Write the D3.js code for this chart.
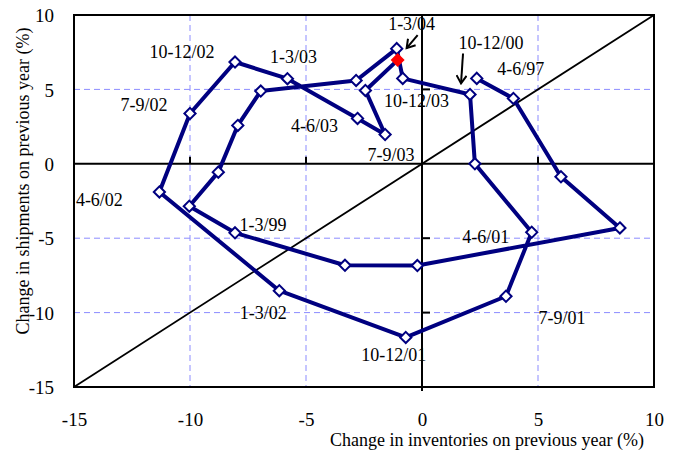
<!DOCTYPE html>
<html><head><meta charset="utf-8">
<script src="https://cdn.jsdelivr.net/npm/d3@7/dist/d3.min.js"></script>
<style>html,body{margin:0;padding:0;background:#fff}svg{display:block}</style>
</head><body>
<svg id="c" width="676" height="461"></svg>
<script>
// ---- data ----
const inventories = [2.36, 3.94, 5.99, 8.53, -0.2, -3.32, -8.06, -10.03, -8.78, -7.94, -6.95, -2.84, -1.09, -0.83,
  2.07, 2.28, 4.73, 3.62, -0.7, -6.15, -11.32, -10.0, -8.06, -5.8, -2.78, -1.59, -2.44, -1.05];
const shipments = [5.74, 4.39, -0.87, -4.31, -6.84, -6.82, -4.64, -2.85, -0.56, 2.58, 4.89, 5.6, 7.74, 5.74,
  4.66, 0.0, -4.6, -8.9, -11.67, -8.53, -1.89, 3.38, 6.84, 5.72, 3.05, 1.97, 4.93, 6.97];
const labelText = ["4-6/97", "1-3/99", "10-12/00", "4-6/01", "7-9/01", "10-12/01", "1-3/02", "4-6/02", "7-9/02",
  "10-12/02", "1-3/03", "4-6/03", "7-9/03", "10-12/03", "1-3/04"];
const labelPoint = [0, 6, 14, 16, 17, 18, 19, 20, 21, 22, 23, 24, 25, 26, 27];
const xTicks = [-15, -10, -5, 0, 5, 10];
const yTicks = [-15, -10, -5, 0, 5, 10];
const xTitle = "Change in inventories on previous year (%)";
const yTitle = "Change in shipments on previous year (%)";

// ---- layout ----
const labelOffset = [[44,-10],[28,-8],[21,-52],[-46,4],[56,21],[-12,17],[-16,22],[-60,8],[-46,-9],
  [-53,-10],[6,-22],[-43,7],[6,20],[51,10],[14,-36]];
const arrows = [{p:27, from:[20,-25], to:[9,-12]}, {p:14, from:[-7,-41], to:[-9,-11]}];

const svg = d3.select("#c");
const L=74, R=654, T=15, B=387;
const x = d3.scaleLinear().domain([-15,10]).range([L,R]);
const y = d3.scaleLinear().domain([-15,10]).range([B,T]);
const font = "'Liberation Serif','Times New Roman',serif";
const navy = "#000080";

// gridlines
const grid = svg.append("g").attr("stroke","#8c8cff").attr("stroke-width",1).attr("stroke-dasharray","6,4");
grid.selectAll(".gx").data(xTicks.filter(d=>d!==0 && d!==-15 && d!==10)).enter().append("line")
  .attr("x1",d=>x(d)).attr("x2",d=>x(d)).attr("y1",T).attr("y2",B);
grid.selectAll(".gy").data(yTicks.filter(d=>d!==0 && d!==-15 && d!==10)).enter().append("line")
  .attr("y1",d=>y(d)).attr("y2",d=>y(d)).attr("x1",L).attr("x2",R);

// diagonal
svg.append("line").attr("x1",x(-15)).attr("y1",y(-15)).attr("x2",x(10)).attr("y2",y(10))
  .attr("stroke","#000").attr("stroke-width",1.8);

// zero axes
svg.append("line").attr("x1",L).attr("x2",R).attr("y1",y(0)).attr("y2",y(0)).attr("stroke","#000").attr("stroke-width",2);
svg.append("line").attr("x1",x(0)).attr("x2",x(0)).attr("y1",T).attr("y2",B+4).attr("stroke","#000").attr("stroke-width",2);
svg.selectAll(".tx").data(xTicks.filter(d=>d!==0)).enter().append("line")
  .attr("x1",d=>x(d)).attr("x2",d=>x(d)).attr("y1",y(0)).attr("y2",y(0)-7).attr("stroke","#000").attr("stroke-width",2);
svg.selectAll(".ty").data(yTicks.filter(d=>d!==0)).enter().append("line")
  .attr("y1",d=>y(d)).attr("y2",d=>y(d)).attr("x1",x(0)).attr("x2",x(0)+8).attr("stroke","#000").attr("stroke-width",2);

// border
svg.append("rect").attr("x",L).attr("y",T).attr("width",R-L).attr("height",B-T)
  .attr("fill","none").attr("stroke","#000").attr("stroke-width",2);

// tick labels
const xa = svg.append("g").attr("transform",`translate(0,${B+8})`)
  .call(d3.axisBottom(x).tickValues(xTicks).tickSize(0).tickPadding(18).tickFormat(d=>String(d)));
const ya = svg.append("g").attr("transform",`translate(${L-6},0)`)
  .call(d3.axisLeft(y).tickValues(yTicks).tickSize(0).tickPadding(14).tickFormat(d=>String(d)));
[xa,ya].forEach(a=>{a.select(".domain").remove();
  a.selectAll("text").attr("font-family",font).attr("font-size",19).attr("fill","#000");});
ya.selectAll("text").attr("dy","0.35em");

// titles
svg.append("text").attr("x",R-10).attr("y",446).attr("text-anchor","end")
  .attr("font-family",font).attr("font-size",18).text(xTitle);
svg.append("text").attr("transform",`translate(29,181) rotate(-90)`).attr("text-anchor","middle")
  .attr("font-family",font).attr("font-size",18).text(yTitle);

// series
const pts = inventories.map((v,i)=>[v, shipments[i]]);
svg.append("path").datum(pts)
  .attr("d", d3.line().x(d=>x(d[0])).y(d=>y(d[1])))
  .attr("fill","none").attr("stroke",navy).attr("stroke-width",4).attr("stroke-linejoin","round");
const sym = d3.symbol().type(d3.symbolDiamond2).size(80);
svg.selectAll(".m").data(pts).enter().append("path")
  .attr("d",sym).attr("transform",d=>`translate(${x(d[0])},${y(d[1])})`)
  .attr("fill",(d,i)=>i===pts.length-1?"#ff0000":"#fff")
  .attr("stroke",(d,i)=>i===pts.length-1?"#ff0000":navy).attr("stroke-width",2);

// labels
svg.selectAll(".lbl").data(labelText).enter().append("text")
  .attr("x",(d,i)=>x(pts[labelPoint[i]][0])+labelOffset[i][0])
  .attr("y",(d,i)=>y(pts[labelPoint[i]][1])+labelOffset[i][1])
  .attr("dy","0.35em").attr("text-anchor","middle")
  .attr("font-family",font).attr("font-size",18).attr("fill","#000").text(d=>d);

// arrows
svg.append("defs").append("marker").attr("id","ah").attr("viewBox","-10 -6 12 12")
  .attr("refX",0).attr("refY",0).attr("markerWidth",12).attr("markerHeight",12).attr("markerUnits","userSpaceOnUse")
  .attr("orient","auto").append("path").attr("d","M-8,-5L0,0L-8,5").attr("fill","none").attr("stroke","#000").attr("stroke-width",2);
svg.selectAll(".ar").data(arrows).enter().append("line")
  .attr("x1",d=>x(pts[d.p][0])+d.from[0]).attr("y1",d=>y(pts[d.p][1])+d.from[1])
  .attr("x2",d=>x(pts[d.p][0])+d.to[0]).attr("y2",d=>y(pts[d.p][1])+d.to[1])
  .attr("stroke","#000").attr("stroke-width",2).attr("marker-end","url(#ah)");
</script>
</body></html>
